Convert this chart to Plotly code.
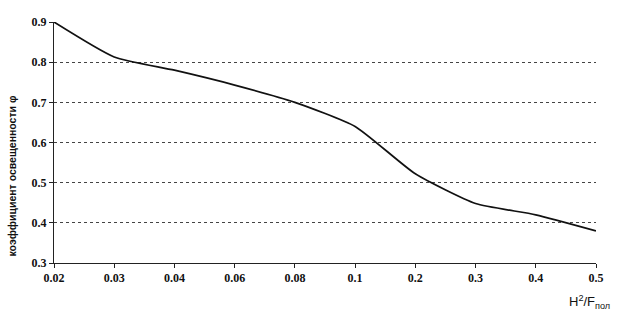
import plotly.graph_objects as go

x_labels = ["0.02", "0.03", "0.04", "0.06", "0.08", "0.1", "0.2", "0.3", "0.4", "0.5"]
phi = [0.90, 0.813, 0.78, 0.743, 0.70, 0.64, 0.522, 0.448, 0.42, 0.38]
y_ticks = [0.3, 0.4, 0.5, 0.6, 0.7, 0.8, 0.9]

fig = go.Figure()
fig.add_trace(go.Scatter(
    x=x_labels, y=phi, mode="lines",
    line=dict(color="#111111", width=1.7, shape="spline", smoothing=0.55),
    showlegend=False, hoverinfo="skip"))

tick_font = dict(family="Liberation Serif", size=12, color="#111111", weight="bold")
fig.update_layout(
    width=626, height=321,
    margin=dict(l=54, r=30, t=22, b=58),
    paper_bgcolor="white", plot_bgcolor="white",
    xaxis=dict(
        type="category", range=[0, 9], showgrid=False,
        showline=True, linecolor="#222222", linewidth=1,
        ticks="outside", ticklen=4, tickcolor="#222222",
        tickfont=tick_font, zeroline=False),
    yaxis=dict(
        range=[0.3, 0.9], tickvals=y_ticks,
        ticktext=[f"{v:.1f}" for v in y_ticks],
        showgrid=True, gridcolor="#444444", griddash="dot", gridwidth=1,
        showline=True, linecolor="#222222", linewidth=1,
        ticks="outside", ticklen=4, tickcolor="#222222",
        tickfont=tick_font, zeroline=False),
)

fig.add_annotation(
    text="коэффициент освещенности φ", xref="paper", yref="paper",
    x=-0.077, y=0.36, textangle=-90, showarrow=False, xanchor="center", yanchor="middle",
    font=dict(family="Liberation Sans", size=10.5, color="#111111", weight="bold"))
fig.add_annotation(
    text="H<sup>2</sup>/F<sub>пол</sub>", xref="paper", yref="paper",
    x=1.03, y=-0.16, showarrow=False, xanchor="right", yanchor="middle",
    font=dict(family="Liberation Sans", size=13, color="#111111"))

fig.write_html("out.html")
